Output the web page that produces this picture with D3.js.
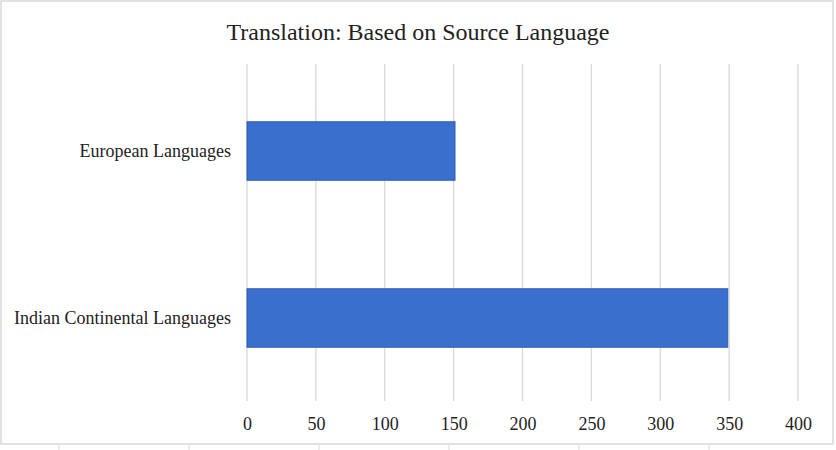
<!DOCTYPE html>
<html><head><meta charset="utf-8">
<script src="https://cdn.jsdelivr.net/npm/d3@7"></script>
<style>body{margin:0;background:#fff}svg{display:block}</style>
</head><body>
<script>
const categories = ["European Languages", "Indian Continental Languages"];
const values = [151, 349];
const tickValues = [0, 50, 100, 150, 200, 250, 300, 350, 400];
const title = "Translation: Based on Source Language";

const W = 836, H = 450;
const svg = d3.select("body").append("svg").attr("width", W).attr("height", H);
const font = "'Liberation Serif','Times New Roman',serif";

// chart border
svg.append("rect").attr("x", 1).attr("y", 1).attr("width", 832).attr("height", 443)
  .attr("fill", "#fff").attr("stroke", "#d9d9d9").attr("stroke-width", 1.5);
// spreadsheet cell lines below
[59, 189, 319, 449, 579, 709].forEach(x => {
  svg.append("line").attr("x1", x).attr("x2", x).attr("y1", 445).attr("y2", 450)
    .attr("stroke", "#d9d9d9");
});

const x = d3.scaleLinear().domain([0, 400]).range([247, 798]);
const y = d3.scaleBand().domain(categories).range([67.5, 401.5]).paddingInner(0.65).paddingOuter(0.325);

// gridlines
svg.append("g").selectAll("line").data(tickValues).join("line")
  .attr("x1", d => x(d)).attr("x2", d => x(d)).attr("y1", 64).attr("y2", 401)
  .attr("stroke", "#d9d9d9").attr("stroke-width", 1.3);

// bars
svg.append("g").selectAll("rect").data(categories).join("rect")
  .attr("x", x(0)).attr("y", d => y(d))
  .attr("width", (d, i) => x(values[i]) - x(0)).attr("height", y.bandwidth())
  .attr("fill", "#3a6fcd").attr("stroke", "#2a5cb5").attr("stroke-width", 1);

// x axis labels
const xa = svg.append("g").attr("transform", "translate(0,401)")
  .call(d3.axisBottom(x).tickValues(tickValues).tickSize(0).tickPadding(16));
xa.select(".domain").remove();
xa.selectAll("text").attr("font-family", font).attr("font-size", 18).attr("fill", "#222");

// y axis labels
const ya = svg.append("g").attr("transform", "translate(247,0)")
  .call(d3.axisLeft(y).tickSize(0).tickPadding(16));
ya.select(".domain").remove();
ya.selectAll("text").attr("font-family", font).attr("font-size", 18).attr("fill", "#222");

// title
svg.append("text").attr("x", 418).attr("y", 40).attr("text-anchor", "middle")
  .attr("font-family", font).attr("font-size", 24).attr("fill", "#222").text(title);
</script>
</body></html>
